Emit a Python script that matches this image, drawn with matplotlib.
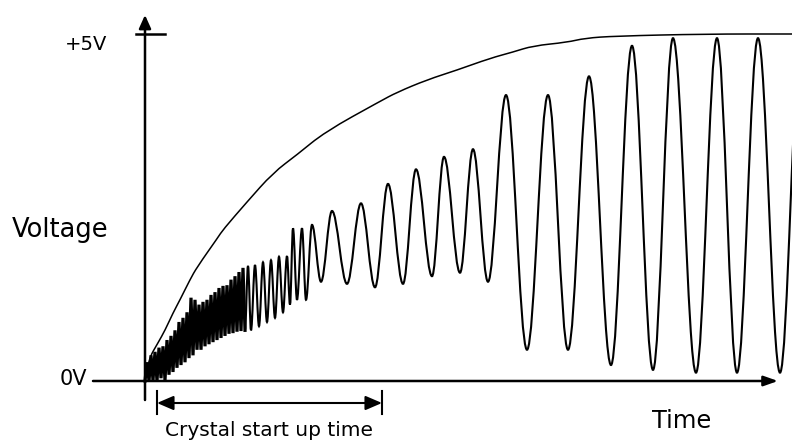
import matplotlib
matplotlib.use("Agg")
import matplotlib.pyplot as plt
from matplotlib.path import Path
from matplotlib.patches import PathPatch

# supply voltage rising (time in arbitrary units, volts)
env_t = [0.0, 0.3, 1.3, 2.0, 2.8, 3.5, 4.5, 5.2, 7.3, 7.8, 10.2, 12.8, 15.2, 18.0,
         23.5, 25.2, 28.2, 31.2, 34.5, 36.8, 38.8, 42.2, 44.0, 47.0, 56.0, 64.7]
env_v = [0.00, 0.30, 0.55, 0.73, 0.98, 1.17, 1.46, 1.64, 2.07, 2.18, 2.58, 3.00, 3.26, 3.59,
         4.03, 4.16, 4.34, 4.48, 4.65, 4.74, 4.83, 4.88, 4.94, 4.97, 5.00, 5.00]

# crystal output: peaks and troughs
osc_t = [0.0, 0.2, 0.4, 0.6, 0.8, 1.0, 1.2, 1.4, 1.6, 1.8, 2.0, 2.2, 2.4, 2.6, 2.8, 3.0,
         3.2, 3.4, 3.6, 3.8, 4.0, 4.2, 4.4, 4.6, 4.8, 5.0, 5.2, 5.4, 5.6, 5.8, 6.0, 6.2,
         6.4, 6.6, 6.8, 7.0, 7.2, 7.4, 7.6, 7.8, 8.0, 8.2, 8.4, 8.6, 8.8, 9.0, 9.2, 9.4,
         9.6, 9.8, 10.0, 10.3, 10.6, 11.0, 11.4, 11.8, 12.2, 12.6, 13.0, 13.4, 13.8, 14.2,
         14.5, 14.8, 15.2, 15.7, 16.1, 16.7, 17.6, 18.7, 20.2, 21.6, 23.0, 24.3, 25.8, 27.1,
         28.7, 29.9, 31.5, 32.8, 34.3, 36.1, 38.2, 40.3, 42.3, 44.4, 46.6, 48.7, 50.8, 52.8,
         55.1, 57.2, 59.2, 61.3, 63.5, 65.6]
osc_v = [0.00, 0.27, 0.00, 0.37, 0.01, 0.42, 0.00, 0.48, 0.04, 0.50, 0.01, 0.59, 0.09, 0.65, 0.13, 0.73,
         0.19, 0.85, 0.23, 0.91, 0.27, 0.99, 0.33, 1.20, 0.37, 1.17, 0.45, 1.10, 0.45, 1.14, 0.50, 1.17,
         0.53, 1.24, 0.56, 1.28, 0.59, 1.34, 0.62, 1.37, 0.65, 1.38, 0.68, 1.46, 0.69, 1.51, 0.71, 1.57,
         0.72, 1.63, 0.73, 1.66, 0.73, 1.67, 0.79, 1.71, 0.85, 1.74, 0.91, 1.79, 0.99, 1.80,
         1.10, 2.20, 1.17, 2.20, 1.17, 2.25, 1.43, 2.45, 1.40, 2.56, 1.35, 2.84, 1.40, 3.05,
         1.51, 3.23, 1.56, 3.34, 1.43, 4.12, 0.45, 4.12, 0.45, 4.39, 0.23, 4.83, 0.16, 4.94,
         0.12, 4.94, 0.12, 4.94, 0.12, 4.94]

n_rapido = 51  # extrema of the fast, messy start


def onda(t, v, k=0.36):
    # smooth curve through the extrema, flat tangent at each one
    verts = [(t[0], v[0])]
    codes = [Path.MOVETO]
    for i in range(len(t) - 1):
        dt = t[i + 1] - t[i]
        verts += [(t[i] + k * dt, v[i]), (t[i + 1] - k * dt, v[i + 1]), (t[i + 1], v[i + 1])]
        codes += [Path.CURVE4] * 3
    return Path(verts, codes)


def suave(t, v):
    # quadratic spline using the points as control points
    verts = [(t[0], v[0])]
    codes = [Path.MOVETO]
    for i in range(1, len(t) - 1):
        verts += [(t[i], v[i]), ((t[i] + t[i + 1]) / 2, (v[i] + v[i + 1]) / 2)]
        codes += [Path.CURVE3] * 2
    verts.append((t[-1], v[-1]))
    codes.append(Path.LINETO)
    return Path(verts, codes)


def main():
    fig = plt.figure(figsize=(7.92, 4.41), dpi=100)
    ax = fig.add_axes([0, 0, 1, 1])
    ax.set_xlim(-14.5, 64.7)
    ax.set_ylim(-0.8646, 5.4899)
    ax.axis('off')

    # axes with arrows
    ax.annotate('', xy=(63.3, 0), xytext=(-5.2, 0),
                arrowprops=dict(arrowstyle='-|>,head_length=0.85,head_width=0.3',
                                lw=1.8, color='black', shrinkA=0, shrinkB=0, mutation_scale=10))
    ax.annotate('', xy=(0, 5.274), xytext=(0, -0.274),
                arrowprops=dict(arrowstyle='-|>,head_length=0.8,head_width=0.36',
                                lw=1.8, color='black', shrinkA=0, shrinkB=0, mutation_scale=10))
    ax.plot([-0.9, 2.0], [5, 5], color='black', lw=1.8)

    ax.add_patch(PathPatch(suave(env_t, env_v), facecolor='none', edgecolor='black', lw=1.1))

    # fast start drawn rough and thick, then the clean sine
    ax.plot(osc_t[:n_rapido], osc_v[:n_rapido], color='black', lw=2.3, solid_joinstyle='miter')
    ax.add_patch(PathPatch(onda(osc_t[n_rapido - 1:], osc_v[n_rapido - 1:]), facecolor='none',
                           edgecolor='black', lw=1.5))

    # start up time marker
    ax.annotate('', xy=(23.7, -0.317), xytext=(1.2, -0.317),
                arrowprops=dict(arrowstyle='<|-|>,head_length=1.0,head_width=0.43',
                                lw=1.5, color='black', shrinkA=0, shrinkB=0, mutation_scale=10))
    ax.plot([1.2, 1.2], [-0.144, -0.476], color='black', lw=1.5)
    ax.plot([23.7, 23.7], [-0.144, -0.476], color='black', lw=1.5)

    ax.text(-8.0, 4.77, '+5V', fontsize=14, ha='left', va='baseline')
    ax.text(-8.5, -0.058, '0V', fontsize=15, ha='left', va='baseline')
    ax.text(-13.3, 2.075, 'Voltage', fontsize=18.5, ha='left', va='baseline')
    ax.text(50.7, -0.677, 'Time', fontsize=17.4, ha='left', va='baseline')
    ax.text(2.0, -0.79, 'Crystal start up time', fontsize=14.5, ha='left', va='baseline')

    fig.savefig('out.png', dpi=100)


if __name__ == "__main__":
    main()
